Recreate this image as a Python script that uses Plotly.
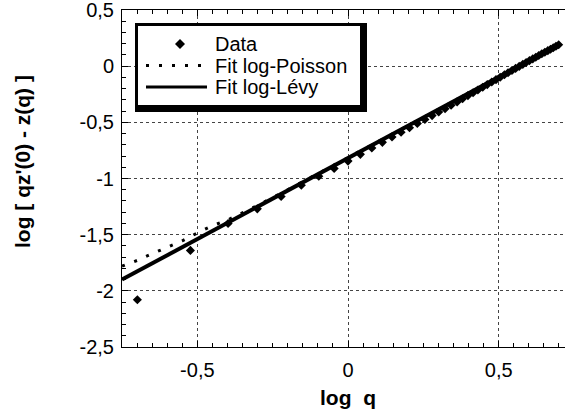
import plotly.graph_objects as go

# ---------------- data ----------------
log_q = [-0.699, -0.523, -0.398, -0.301, -0.222, -0.155, -0.097, -0.046, 0.000,
         0.041, 0.079, 0.114, 0.146, 0.176, 0.204, 0.230, 0.255, 0.279, 0.301,
         0.322, 0.342, 0.362, 0.380, 0.398, 0.415, 0.431, 0.447, 0.462, 0.477,
         0.491, 0.505, 0.519, 0.531, 0.544, 0.556, 0.568, 0.580, 0.591, 0.602,
         0.613, 0.623, 0.633, 0.643, 0.653, 0.663, 0.672, 0.681, 0.690, 0.699]
data_y = [-2.08, -1.64, -1.40, -1.27, -1.16, -1.06, -0.98, -0.91, -0.845,
          -0.785, -0.728, -0.678, -0.630, -0.588, -0.548, -0.510, -0.475, -0.440, -0.408,
          -0.378, -0.348, -0.318, -0.290, -0.262, -0.237, -0.212, -0.188, -0.164, -0.141,
          -0.120, -0.098, -0.076, -0.058, -0.038, -0.020, -0.002, 0.016, 0.033, 0.049,
          0.065, 0.080, 0.095, 0.110, 0.124, 0.138, 0.151, 0.164, 0.177, 0.190]

poisson_x = [-0.75, -0.70, -0.65, -0.60, -0.55, -0.50, -0.45, -0.40, -0.30, -0.20, 0.0, 0.2, 0.4, 0.6, 0.70]
poisson_y = [-1.78, -1.73, -1.67, -1.615, -1.555, -1.485, -1.42, -1.37, -1.24, -1.10, -0.816, -0.530, -0.242, 0.047, 0.190]

levy_x = [-0.75, 0.70]
levy_y = [-1.90, 0.192]

x_tickvals = [-0.5, 0, 0.5]
x_ticktext = ["-0,5", "0", "0,5"]
y_tickvals = [-2.5, -2, -1.5, -1, -0.5, 0, 0.5]
y_ticktext = ["-2,5", "-2", "-1,5", "-1", "-0,5", "0", "0,5"]

legend_labels = ["Data", "Fit log-Poisson", "Fit log-Lévy"]

# ---------------- layout constants (pixels) ----------------
W, H = 566, 414
ML, MR, MT, MB = 122, 1, 10, 67
PW, PH = W - ML - MR, H - MT - MB
XR = [-0.75, 0.72]
YR = [-2.5, 0.5]

FONT = "Liberation Sans, Arial, Helvetica, sans-serif"


def dx(px):
    return (px - ML) / PW


def dy(py):
    return (H - MB - py) / PH


fig = go.Figure()

fig.add_trace(go.Scatter(x=poisson_x, y=poisson_y, mode="lines",
                         line=dict(color="black", width=3, dash="3px,10px"),
                         name=legend_labels[1], showlegend=False))
fig.add_trace(go.Scatter(x=levy_x, y=levy_y, mode="lines",
                         line=dict(color="black", width=4),
                         name=legend_labels[2], showlegend=False))
fig.add_trace(go.Scatter(x=log_q, y=data_y, mode="markers",
                         marker=dict(symbol="diamond", size=7, color="black"),
                         name=legend_labels[0], showlegend=False))

# ---- hand-drawn legend box (frame with drop shadow) ----
rows = [44, 65.5, 87]
shapes = [
    dict(type="rect", xref="paper", yref="paper", layer="above",
         x0=dx(135), x1=dx(367), y0=dy(112), y1=dy(23),
         fillcolor="black", line=dict(width=0)),
    dict(type="rect", xref="paper", yref="paper", layer="above",
         x0=dx(138), x1=dx(360), y0=dy(105), y1=dy(26),
         fillcolor="white", line=dict(width=0)),
    dict(type="path", xref="paper", yref="paper", layer="above",
         xsizemode="pixel", ysizemode="pixel", xanchor=dx(180), yanchor=dy(rows[0]),
         path="M0,-5 L5,0 L0,5 L-5,0 Z", fillcolor="black", line=dict(width=0)),
    dict(type="line", xref="paper", yref="paper", layer="above",
         x0=dx(146), x1=dx(207), y0=dy(rows[1]), y1=dy(rows[1]),
         line=dict(color="black", width=3, dash="3px,10px")),
    dict(type="line", xref="paper", yref="paper", layer="above",
         x0=dx(146), x1=dx(207), y0=dy(rows[2]), y1=dy(rows[2]),
         line=dict(color="black", width=3)),
]

annotations = []
for lab, r in zip(legend_labels, rows):
    annotations.append(dict(x=dx(213), y=dy(r), xref="paper", yref="paper", text=lab,
                            showarrow=False, xanchor="left", yanchor="middle",
                            font=dict(family=FONT, size=20, color="black")))
annotations.append(dict(x=dx(22), y=dy(162), xref="paper", yref="paper",
                        text="log [ qz'(0) - z(q) ]", textangle=-90, showarrow=False,
                        xanchor="center", yanchor="middle",
                        font=dict(family=FONT, size=21, color="black", weight="bold")))
annotations.append(dict(x=dx(348), y=dy(397), xref="paper", yref="paper",
                        text="log\u00a0 q", showarrow=False,
                        xanchor="center", yanchor="middle",
                        font=dict(family=FONT, size=21, color="black", weight="bold")))

axis_common = dict(showline=True, linecolor="black", linewidth=1,
                   ticks="inside", tickcolor="black", ticklen=6, tickwidth=1,
                   showgrid=True, gridcolor="#444444", gridwidth=1, griddash="dot",
                   zeroline=False, ticklabeloverflow="allow", automargin=False,
                   tickfont=dict(family=FONT, size=20, color="black"))

fig.update_layout(
    width=W, height=H,
    margin=dict(l=ML, r=MR, t=MT, b=MB, pad=0, autoexpand=False),
    paper_bgcolor="white", plot_bgcolor="white",
    showlegend=False,
    xaxis=dict(range=XR, tickmode="array", tickvals=x_tickvals, ticktext=x_ticktext,
               mirror="ticks", ticklabelstandoff=5,
               minor=dict(dtick=0.05, tick0=0, ticks="inside", ticklen=4, tickcolor="black", showgrid=False),
               **axis_common),
    yaxis=dict(range=YR, tickmode="array", tickvals=y_tickvals, ticktext=y_ticktext,
               mirror=False, ticklabelstandoff=3,
               minor=dict(dtick=0.1, tick0=0, ticks="inside", ticklen=4, tickcolor="black", showgrid=False),
               **axis_common),
    annotations=annotations,
    shapes=shapes,
)

fig.write_html("out.html")
